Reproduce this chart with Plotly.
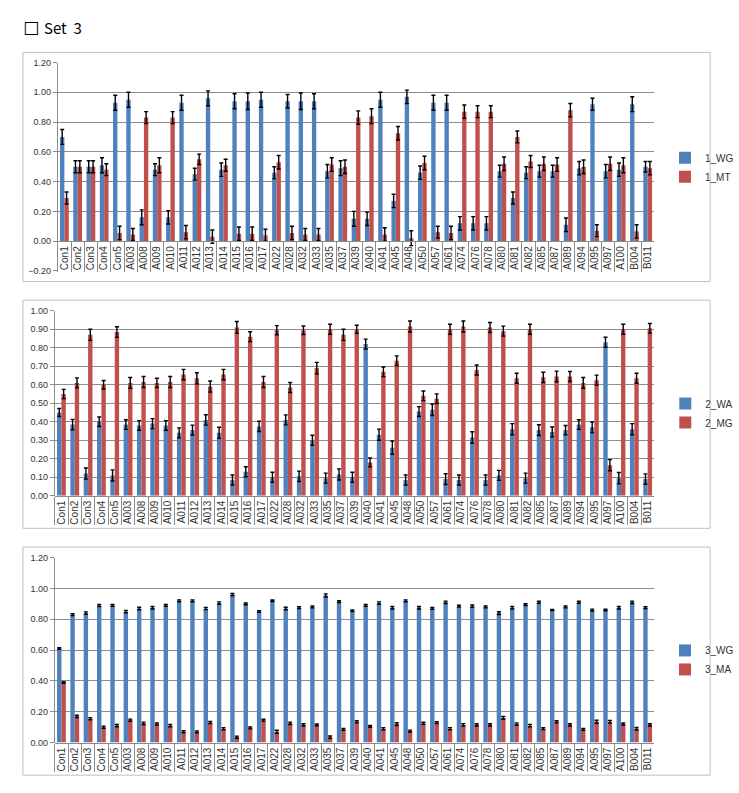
import plotly.graph_objects as go

categories = ["Con1", "Con2", "Con3", "Con4", "Con5", "A003", "A008", "A009", "A010", "A011",
              "A012", "A013", "A014", "A015", "A016", "A017", "A022", "A028", "A032", "A033",
              "A035", "A037", "A039", "A040", "A041", "A045", "A048", "A050", "A057", "A061",
              "A074", "A076", "A078", "A080", "A081", "A082", "A085", "A087", "A089", "A094",
              "A095", "A097", "A100", "B004", "B011"]

# Panel 1
wg1 = [0.70, 0.50, 0.50, 0.51, 0.93, 0.95, 0.16, 0.48, 0.16, 0.93,
       0.45, 0.96, 0.48, 0.94, 0.94, 0.95, 0.46, 0.94, 0.94, 0.94,
       0.47, 0.49, 0.15, 0.15, 0.95, 0.27, 0.97, 0.46, 0.93, 0.93,
       0.12, 0.12, 0.12, 0.47, 0.29, 0.46, 0.47, 0.47, 0.11, 0.49,
       0.92, 0.47, 0.48, 0.92, 0.50]
mt1 = [0.29, 0.50, 0.50, 0.48, 0.055, 0.045, 0.83, 0.51, 0.83, 0.06,
       0.55, 0.03, 0.51, 0.05, 0.05, 0.04, 0.53, 0.055, 0.045, 0.045,
       0.515, 0.50, 0.83, 0.84, 0.045, 0.725, 0.02, 0.525, 0.06, 0.055,
       0.87, 0.87, 0.87, 0.52, 0.70, 0.535, 0.52, 0.515, 0.88, 0.50,
       0.07, 0.52, 0.51, 0.065, 0.49]
wg1_err = [0.05, 0.04, 0.04, 0.05, 0.05, 0.05, 0.05, 0.04, 0.045, 0.05,
           0.04, 0.05, 0.045, 0.05, 0.055, 0.05, 0.04, 0.045, 0.055, 0.05,
           0.045, 0.05, 0.05, 0.045, 0.05, 0.045, 0.045, 0.045, 0.05, 0.05,
           0.045, 0.045, 0.045, 0.04, 0.04, 0.04, 0.04, 0.04, 0.045, 0.045,
           0.04, 0.045, 0.045, 0.05, 0.035]
mt1_err = [0.04, 0.04, 0.04, 0.04, 0.045, 0.04, 0.04, 0.05, 0.04, 0.045,
           0.035, 0.045, 0.04, 0.045, 0.045, 0.04, 0.045, 0.045, 0.04, 0.04,
           0.045, 0.045, 0.045, 0.05, 0.045, 0.045, 0.05, 0.045, 0.04, 0.045,
           0.045, 0.04, 0.04, 0.045, 0.04, 0.04, 0.045, 0.045, 0.045, 0.045,
           0.04, 0.045, 0.05, 0.045, 0.045]

# Panel 2
wa2 = [0.45, 0.385, 0.12, 0.40, 0.11, 0.385, 0.38, 0.39, 0.38, 0.34,
       0.355, 0.41, 0.34, 0.085, 0.13, 0.375, 0.10, 0.41, 0.105, 0.30,
       0.095, 0.115, 0.10, 0.82, 0.33, 0.26, 0.085, 0.455, 0.465, 0.09,
       0.085, 0.315, 0.085, 0.11, 0.36, 0.095, 0.355, 0.345, 0.355, 0.385,
       0.37, 0.83, 0.095, 0.36, 0.09]
mg2 = [0.55, 0.61, 0.87, 0.60, 0.885, 0.61, 0.615, 0.61, 0.615, 0.655,
       0.635, 0.59, 0.655, 0.91, 0.86, 0.615, 0.895, 0.585, 0.895, 0.69,
       0.90, 0.87, 0.90, 0.18, 0.67, 0.73, 0.915, 0.54, 0.525, 0.90,
       0.915, 0.68, 0.91, 0.89, 0.635, 0.90, 0.64, 0.645, 0.645, 0.61,
       0.625, 0.165, 0.90, 0.635, 0.905]
wa2_err = [0.022, 0.028, 0.03, 0.026, 0.03, 0.026, 0.026, 0.027, 0.026, 0.027,
           0.027, 0.028, 0.03, 0.027, 0.027, 0.028, 0.027, 0.027, 0.028, 0.027,
           0.027, 0.03, 0.027, 0.027, 0.03, 0.036, 0.027, 0.027, 0.031, 0.029,
           0.027, 0.031, 0.027, 0.027, 0.03, 0.027, 0.029, 0.027, 0.025, 0.026,
           0.029, 0.027, 0.031, 0.03, 0.028]
mg2_err = [0.025, 0.027, 0.03, 0.023, 0.029, 0.029, 0.03, 0.025, 0.03, 0.028,
           0.03, 0.03, 0.028, 0.032, 0.027, 0.03, 0.025, 0.027, 0.023, 0.031,
           0.027, 0.03, 0.022, 0.024, 0.026, 0.026, 0.03, 0.026, 0.026, 0.027,
           0.03, 0.027, 0.027, 0.027, 0.027, 0.027, 0.028, 0.029, 0.027, 0.029,
           0.027, 0.03, 0.027, 0.027, 0.026]

# Panel 3
wg3 = [0.61, 0.83, 0.84, 0.89, 0.89, 0.85, 0.87, 0.875, 0.89, 0.92,
       0.92, 0.87, 0.905, 0.96, 0.90, 0.85, 0.92, 0.87, 0.875, 0.88,
       0.955, 0.915, 0.855, 0.89, 0.905, 0.875, 0.92, 0.875, 0.87, 0.91,
       0.885, 0.885, 0.88, 0.84, 0.875, 0.895, 0.91, 0.86, 0.88, 0.91,
       0.86, 0.86, 0.875, 0.91, 0.875]
ma3 = [0.39, 0.17, 0.155, 0.10, 0.11, 0.145, 0.125, 0.12, 0.11, 0.07,
       0.07, 0.13, 0.09, 0.035, 0.095, 0.145, 0.07, 0.125, 0.115, 0.115,
       0.035, 0.085, 0.135, 0.105, 0.09, 0.12, 0.075, 0.125, 0.13, 0.09,
       0.115, 0.115, 0.115, 0.16, 0.12, 0.11, 0.09, 0.135, 0.115, 0.085,
       0.135, 0.135, 0.12, 0.09, 0.115]
wg3_err = [0.005, 0.006, 0.008, 0.007, 0.006, 0.008, 0.008, 0.008, 0.006, 0.006,
           0.006, 0.007, 0.008, 0.007, 0.006, 0.005, 0.005, 0.008, 0.006, 0.006,
           0.01, 0.006, 0.005, 0.006, 0.008, 0.008, 0.006, 0.008, 0.006, 0.008,
           0.006, 0.008, 0.006, 0.009, 0.008, 0.006, 0.007, 0.004, 0.006, 0.007,
           0.006, 0.005, 0.008, 0.008, 0.006]
ma3_err = [0.005, 0.007, 0.007, 0.007, 0.007, 0.007, 0.008, 0.007, 0.007, 0.007,
           0.006, 0.007, 0.007, 0.007, 0.006, 0.006, 0.01, 0.008, 0.007, 0.006,
           0.008, 0.006, 0.007, 0.006, 0.007, 0.009, 0.006, 0.007, 0.006, 0.007,
           0.008, 0.007, 0.007, 0.009, 0.008, 0.008, 0.006, 0.007, 0.007, 0.006,
           0.01, 0.009, 0.007, 0.008, 0.007]

panels = [
    ("1_WG", wg1, wg1_err, "1_MT", mt1, mt1_err),
    ("2_WA", wa2, wa2_err, "2_MG", mg2, mg2_err),
    ("3_WG", wg3, wg3_err, "3_MA", ma3, ma3_err),
]

W, H = 739, 793
BLUE = "#4F81BD"
RED = "#C0504D"
GRID = "#8C8C8C"
TXT = "#333333"
FONT = "Liberation Sans"

def px_x(p):
    return p / W

def px_y(p):
    return 1 - p / H

# plot-area pixel geometry: (left, right, top, bottom, yzero_px)
geo = [
    (58, 657, 58.3, 269.3, 239.3),
    (55, 657, 309.7, 497.0, 497.0),
    (55, 657, 559.7, 747.0, 747.0),
]
yranges = [[-0.2, 1.2], [0, 1.0], [0, 1.2]]
dticks = [0.2, 0.1, 0.2]
boxes = [(23, 48, 713, 280), (23, 299, 713, 530), (23, 549, 713, 780)]
legend_top = [140, 389, 639]

fig = go.Figure()
layout = dict(
    width=W, height=H, margin=dict(l=0, r=0, t=0, b=0),
    paper_bgcolor="white", plot_bgcolor="white",
    barmode="group", bargap=0.34, bargroupgap=0.0,
    font=dict(family=FONT, size=10, color=TXT),
    shapes=[], annotations=[],
)

for i, (n1, v1, e1, n2, v2, e2) in enumerate(panels):
    k = "" if i == 0 else str(i + 1)
    leg = "legend" + k
    for name, vals, errs, col in [(n1, v1, e1, BLUE), (n2, v2, e2, RED)]:
        fig.add_trace(go.Bar(
            x=categories, y=vals, name=name, marker=dict(color=col, line=dict(width=0)),
            error_y=dict(type="data", array=errs, visible=True, color="black",
                         thickness=1.4, width=2),
            xaxis="x" + k, yaxis="y" + k, legend=leg,
        ))
    left, right, top, bottom, yzero = geo[i]
    layout["xaxis" + k] = dict(
        domain=[px_x(left), px_x(right)], anchor="free", position=px_y(yzero),
        type="category", tickangle=-90, showline=True, linecolor=GRID, linewidth=1,
        ticks="outside", tickson="boundaries", ticklen=30 if i == 0 else 28,
        tickcolor=GRID, tickwidth=1, showgrid=False,
        tickfont=dict(family=FONT, size=10, color=TXT), fixedrange=True,
    )
    layout["yaxis" + k] = dict(
        domain=[px_y(bottom), px_y(top)], anchor="x" + k, range=yranges[i],
        dtick=dticks[i], tick0=0, tickformat=".2f", showgrid=True, gridcolor=GRID,
        gridwidth=1, zeroline=False, showline=True, linecolor=GRID, ticks="outside",
        ticklen=4, tickcolor=GRID, tickfont=dict(family=FONT, size=9, color=TXT),
        fixedrange=True,
    )
    layout[leg] = dict(
        x=px_x(668), y=px_y(legend_top[i]), xanchor="left", yanchor="top",
        bgcolor="rgba(0,0,0,0)", font=dict(family=FONT, size=10, color=TXT),
        itemwidth=30, tracegroupgap=0,
    )
    x0, y0, x1, y1 = boxes[i]
    layout["shapes"].append(dict(
        type="rect", xref="paper", yref="paper",
        x0=px_x(x0), x1=px_x(x1), y0=px_y(y1), y1=px_y(y0),
        line=dict(color="#BFBFBF", width=1), layer="below",
    ))

layout["annotations"].append(dict(
    text="☐", xref="paper", yref="paper", x=px_x(21), y=px_y(24),
    xanchor="left", yanchor="middle", showarrow=False,
    font=dict(family="DejaVu Sans", size=18, color="black"),
))
layout["annotations"].append(dict(
    text="Set&nbsp;&nbsp;3", xref="paper", yref="paper", x=px_x(42), y=px_y(23),
    xanchor="left", yanchor="middle", showarrow=False,
    font=dict(family="Noto Sans CJK KR", size=15, color="black"),
))

fig.update_layout(**layout)
fig.write_html("out.html", post_script="document.body.style.margin='0';",
               config={"displayModeBar": False})
